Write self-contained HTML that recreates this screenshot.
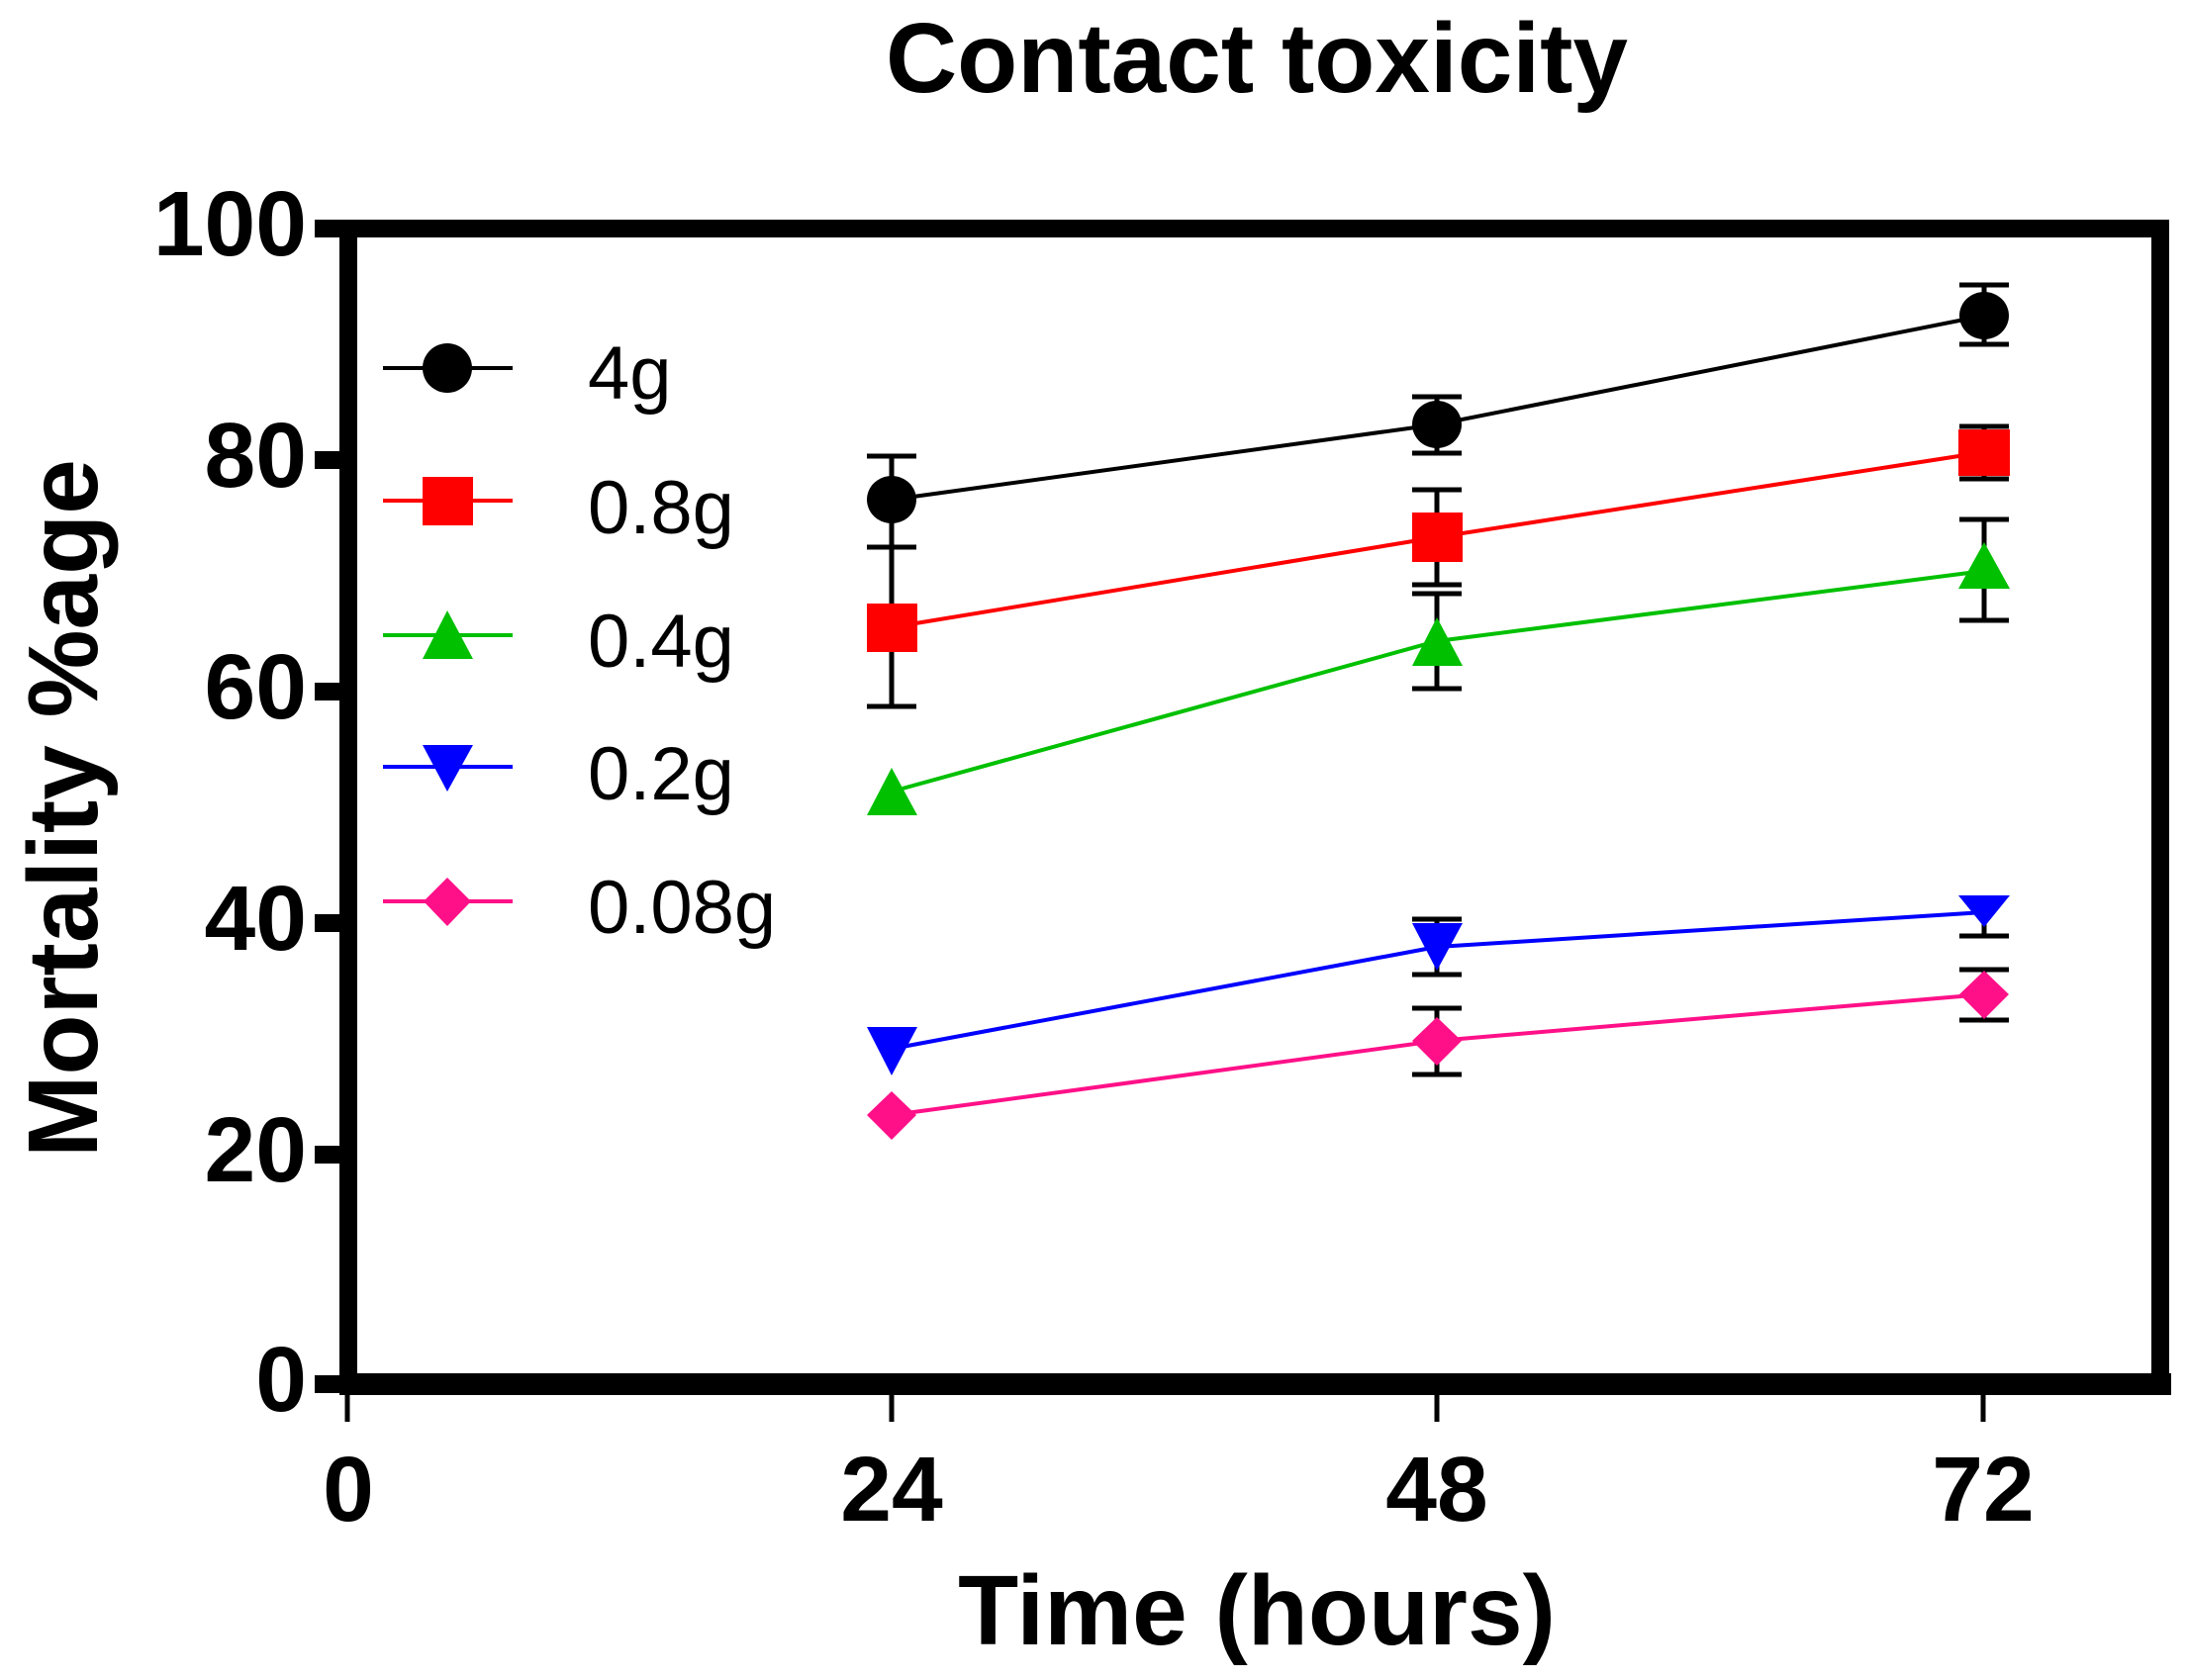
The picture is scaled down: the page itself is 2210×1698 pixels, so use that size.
<!DOCTYPE html>
<html><head><meta charset="utf-8"><style>html,body{margin:0;padding:0;background:#fff}svg{display:block}</style></head>
<body>
<svg width="2210" height="1698" viewBox="0 0 2210 1698" xmlns="http://www.w3.org/2000/svg" font-family="Liberation Sans, Arial, sans-serif">
<rect width="2210" height="1698" fill="#fff"/>
<text x="1270" y="93" font-size="100" font-weight="bold" text-anchor="middle">Contact toxicity</text>
<text x="1270" y="1662" font-size="100" font-weight="bold" text-anchor="middle">Time (hours)</text>
<text transform="translate(98,817) rotate(-90)" font-size="100" font-weight="bold" text-anchor="middle">Mortality %age</text>
<!-- frame -->
<rect x="352" y="231" width="1831" height="1170" fill="none" stroke="#000" stroke-width="18"/>
<line x1="343" y1="1399" x2="2194" y2="1399" stroke="#000" stroke-width="22"/>
<!-- y ticks -->
<g stroke="#000" stroke-width="18">
<line x1="318" y1="231" x2="352" y2="231"/><line x1="318" y1="465" x2="352" y2="465"/>
<line x1="318" y1="699" x2="352" y2="699"/><line x1="318" y1="933" x2="352" y2="933"/>
<line x1="318" y1="1167" x2="352" y2="1167"/><line x1="318" y1="1399" x2="352" y2="1399"/>
</g>
<g stroke="#000" stroke-width="5">
<line x1="351" y1="1410" x2="351" y2="1437"/><line x1="901" y1="1410" x2="901" y2="1437"/>
<line x1="1452" y1="1410" x2="1452" y2="1437"/><line x1="2004" y1="1410" x2="2004" y2="1437"/>
</g>
<g font-size="93" font-weight="bold" text-anchor="end">
<text x="310" y="258">100</text><text x="310" y="492">80</text><text x="310" y="726">60</text>
<text x="310" y="960">40</text><text x="310" y="1194">20</text><text x="310" y="1426">0</text>
</g>
<g font-size="93" font-weight="bold" text-anchor="middle">
<text x="352" y="1537">0</text><text x="901" y="1537">24</text><text x="1452" y="1537">48</text><text x="2004" y="1537">72</text>
</g>
<!-- error bars -->
<g stroke="#000" stroke-width="5">
<path d="M901 461V633M876 461H926M876 633H926"/>
<path d="M901 553V714M876 553H926M876 714H926"/>
<path d="M1452 401V458M1427 401H1477M1427 458H1477"/>
<path d="M1452 495V591M1427 495H1477M1427 591H1477"/>
<path d="M1452 600V696M1427 600H1477M1427 696H1477"/>
<path d="M1452 929V985M1427 929H1477M1427 985H1477"/>
<path d="M1452 1019V1086M1427 1019H1477M1427 1086H1477"/>
<path d="M2005 288V348M1980 288H2030M1980 348H2030"/>
<path d="M2005 431V484M1980 431H2030M1980 484H2030"/>
<path d="M2005 525V627M1980 525H2030M1980 627H2030"/>
<path d="M2005 922V946M1980 946H2030"/>
<path d="M2005 980V1031M1980 980H2030M1980 1031H2030"/>
</g>
<!-- series lines -->
<g stroke-width="4" fill="none">
<polyline stroke="#000" points="901,505 1452,429 2005,319"/>
<polyline stroke="#f00" points="901,634 1452,543 2005,457"/>
<polyline stroke="#00c000" points="901,800 1452,648 2005,577"/>
<polyline stroke="#00f" points="901,1060 1452,957 2005,922"/>
<polyline stroke="#ff1088" points="901,1127 1452,1052 2005,1005"/>
</g>
<!-- markers -->
<g fill="#000"><ellipse cx="901" cy="505" rx="25" ry="24"/><ellipse cx="1452" cy="429" rx="25" ry="24"/><ellipse cx="2005" cy="319" rx="25" ry="24"/></g>
<g fill="#f00"><rect x="876" y="610" width="51" height="49"/><rect x="1427" y="518" width="51" height="50"/><rect x="1979" y="434" width="52" height="47"/></g>
<g fill="#00c000"><polygon points="901,776 876,824 927,824"/><polygon points="1452,624 1427,673 1478,673"/><polygon points="2005,548 1979,595 2031,595"/></g>
<g fill="#00f"><polygon points="876,1038 927,1038 901,1087"/><polygon points="1427,933 1478,933 1452,981"/><polygon points="1979,905 2031,905 2005,937"/></g>
<g fill="#ff1088"><polygon points="901,1103 926,1127 901,1152 876,1127"/><polygon points="1452,1028 1477,1052 1452,1077 1427,1052"/><polygon points="2005,981 2030,1005 2005,1030 1980,1005"/></g>
<!-- legend -->
<g stroke-width="4">
<line x1="387" y1="372" x2="518" y2="372" stroke="#000"/>
<line x1="387" y1="506" x2="518" y2="506" stroke="#f00"/>
<line x1="387" y1="642" x2="518" y2="642" stroke="#00c000"/>
<line x1="387" y1="775" x2="518" y2="775" stroke="#00f"/>
<line x1="387" y1="911" x2="518" y2="911" stroke="#ff1088"/>
</g>
<circle cx="452" cy="372" r="25" fill="#000"/>
<rect x="427" y="482" width="51" height="49" fill="#f00"/>
<polygon points="452,617 427,666 478,666" fill="#00c000"/>
<polygon points="427,753 478,753 452,800" fill="#00f"/>
<polygon points="452,887 476,911 452,936 428,911" fill="#ff1088"/>
<g font-size="76">
<text x="594" y="403">4g</text><text x="594" y="539">0.8g</text><text x="594" y="674">0.4g</text>
<text x="594" y="808">0.2g</text><text x="594" y="943">0.08g</text>
</g>
</svg>
</body></html>
